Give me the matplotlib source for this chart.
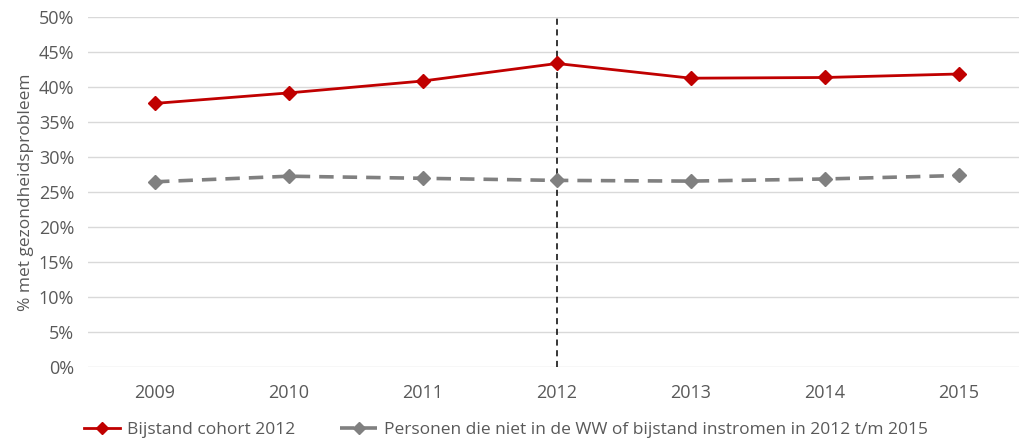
import matplotlib.pyplot as plt
from matplotlib.ticker import FuncFormatter

# data
years = ["2009", "2010", "2011", "2012", "2013", "2014", "2015"]
cohort = [37.7, 39.2, 40.9, 43.4, 41.3, 41.4, 41.9]
others = [26.5, 27.3, 27.0, 26.7, 26.6, 26.9, 27.4]
label_cohort = "Bijstand cohort 2012"
label_others = "Personen die niet in de WW of bijstand instromen in 2012 t/m 2015"

plt.rcParams['font.family'] = ['Open Sans', 'DejaVu Sans']
txt = "#595959"

fig = plt.figure(figsize=(10.19, 4.41), dpi=100)
ax = fig.add_axes([0.0864, 0.1671, 0.9136, 0.7937])

x = list(range(len(years)))
ax.plot(x, cohort, color="#C00000", lw=2.0, marker="D", ms=7, label=label_cohort, zorder=4)
ax.plot(x, others, color="#808080", lw=2.6, ls=(0, (4, 2.5)), marker="D", ms=7,
        label=label_others, zorder=3)

# vertical marker at 2012
ax.axvline(years.index("2012"), color="black", lw=1.1, ls=(0, (4, 3)), zorder=2)

ax.set_xlim(-0.5, 6.45)
ax.set_ylim(0, 50)
ax.set_yticks(range(0, 51, 5))
ax.yaxis.set_major_formatter(FuncFormatter(lambda v, p: f"{v:.0f}%"))
ax.set_xticks(x)
ax.set_xticklabels(years)
ax.grid(axis="y", color="#D9D9D9", lw=1)
ax.set_axisbelow(True)
for s in ax.spines.values():
    s.set_visible(False)
ax.tick_params(length=0, labelsize=13, colors=txt, pad=10)
ax.tick_params(axis="x", pad=12)
ax.set_ylabel("% met gezondheidsprobleem", fontsize=12.5, color=txt, labelpad=3)

fig.legend(loc="center left", bbox_to_anchor=(0.082, 0.025), ncol=2, frameon=False,
           fontsize=12.5, labelcolor=txt, handlelength=2.1, handletextpad=0.4,
           columnspacing=2.6, borderaxespad=0, borderpad=0, markerscale=0.85)

fig.savefig("out.png", dpi=100)
